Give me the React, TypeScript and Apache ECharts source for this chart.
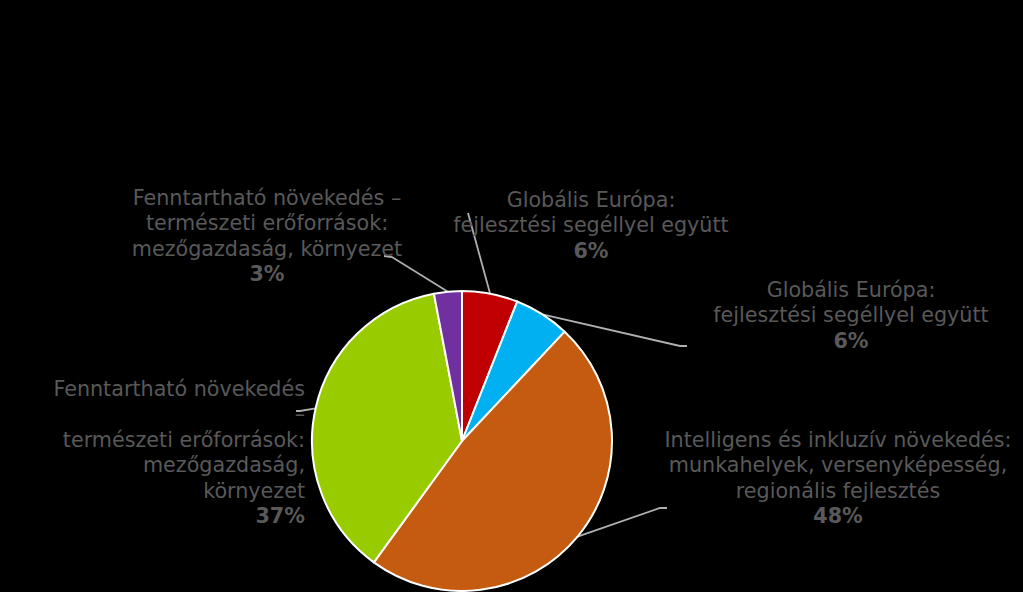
import { useEffect, useRef } from 'react';
import * as echarts from 'echarts';

const categories = [
  'Globális Európa:\nfejlesztési segéllyel együtt',
  'Globális Európa:\nfejlesztési segéllyel együtt',
  'Intelligens és inkluzív növekedés:\nmunkahelyek, versenyképesség,\nregionális fejlesztés',
  'Fenntartható növekedés\n–\ntermészeti erőforrások:\nmezőgazdaság,\nkörnyezet',
  'Fenntartható növekedés –\ntermészeti erőforrások:\nmezőgazdaság, környezet',
];
const values = [6, 6, 48, 37, 3];
const colors = ['#C00000', '#00B0F0', '#C55A11', '#99CC00', '#7030A0'];

// label anchors (x, y of top, align) and leader line ends, per slice
const labelPos: Array<{ x: number; y: number; align: 'left' | 'center' | 'right' }> = [
  { x: 591, y: 187, align: 'center' },
  { x: 851, y: 277, align: 'center' },
  { x: 838, y: 427, align: 'center' },
  { x: 305, y: 376, align: 'right' },
  { x: 267, y: 185, align: 'center' },
];
const lineEnds = [
  [468, 213],
  [687, 346],
  [667, 508],
  [296, 411],
  [384, 256],
];
const lineElbows = [
  [468, 213],
  [680, 346],
  [660, 508],
  [300, 411],
  [392, 257],
];

export default function App() {
  const ref = useRef<HTMLDivElement | null>(null);

  useEffect(() => {
    if (!ref.current) return;
    const chart = echarts.init(ref.current, undefined, { renderer: 'svg' });

    chart.setOption({
      backgroundColor: '#000000',
      animation: false,
      series: [
        {
          type: 'pie',
          center: [462, 441],
          radius: [0, 150],
          startAngle: 90,
          clockwise: true,
          avoidLabelOverlap: false,
          data: categories.map((name, i) => ({
            name,
            value: values[i],
            itemStyle: { color: colors[i] },
          })),
          itemStyle: { borderColor: '#FFFFFF', borderWidth: 2 },
          label: {
            show: true,
            color: '#595959',
            fontFamily: 'DejaVu Sans',
            fontSize: 20.7,
            lineHeight: 25.5,
            formatter: (p: { name: string; value: number }) =>
              p.name + '\n{b|' + p.value + '%}',
            rich: {
              b: {
                color: '#595959',
                fontFamily: 'DejaVu Sans',
                fontSize: 20.7,
                fontWeight: 'bold',
                lineHeight: 25.5,
              },
            },
          },
          labelLine: {
            show: true,
            lineStyle: { color: '#B0B0B0', width: 1.8 },
          },
          labelLayout: (params: {
            dataIndex: number;
            labelLinePoints?: number[][];
          }) => {
            const i = params.dataIndex;
            const pos = labelPos[i];
            const start = params.labelLinePoints ? params.labelLinePoints[0] : lineEnds[i];
            return {
              x: pos.x,
              y: pos.y,
              align: pos.align,
              verticalAlign: 'top',
              labelLinePoints: [start, lineElbows[i], lineEnds[i]],
            };
          },
        },
      ],
    });

    return () => {
      chart.dispose();
    };
  }, []);

  return (
    <div
      ref={ref}
      style={{ position: 'absolute', left: 0, top: 0, width: 1023, height: 592 }}
    />
  );
}
